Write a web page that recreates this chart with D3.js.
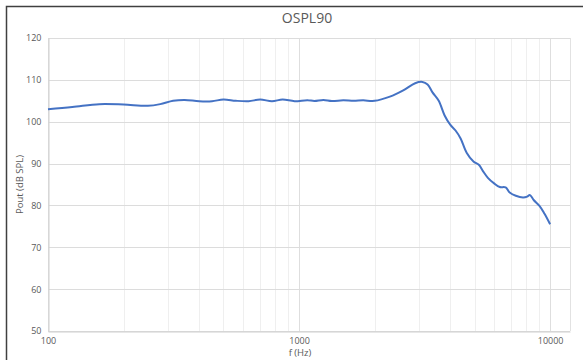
<!DOCTYPE html>
<html>
<head>
<meta charset="utf-8">
<script src="https://cdn.jsdelivr.net/npm/d3@7"></script>
<style>
  html, body { margin: 0; padding: 0; background: #fff; }
  svg { display: block; }
  text { font-family: "Open Sans", "Liberation Sans", sans-serif; fill: #595959; }
</style>
</head>
<body>
<svg id="chart" width="583" height="360"></svg>
<script>
// Output SPL at 90 dB input, measured across frequency
const frequencies = [100, 125, 160, 200, 250, 280, 315, 350, 400, 450, 500, 560, 630, 700, 780, 860, 960,
  1080, 1150, 1250, 1350, 1500, 1650, 1800, 2000, 2300, 2600, 2900, 3100, 3250, 3400, 3600, 3800,
  4000, 4200, 4400, 4650, 4950, 5200, 5400, 5650, 6000, 6300, 6650, 6900, 7300, 7800, 8100, 8300,
  8600, 9100, 9500, 10000];
const ospl90 = [103.0, 103.5, 104.2, 104.1, 103.8, 104.2, 105.0, 105.2, 104.9, 104.9, 105.3, 105.0, 104.9,
  105.3, 104.9, 105.3, 104.9, 105.15, 104.95, 105.2, 104.95, 105.1, 105.0, 105.1, 105.0, 106.0, 107.5,
  109.2, 109.5, 108.9, 107.0, 105.0, 101.5, 99.3, 97.9, 96.0, 92.6, 90.5, 89.7, 88.2, 86.6, 85.2, 84.4,
  84.3, 83.1, 82.3, 81.9, 82.1, 82.5, 81.3, 79.8, 78.0, 75.5];
const yTicks = [50, 60, 70, 80, 90, 100, 110, 120];
const xTickLabels = [100, 1000, 10000];

const chartTitle = "OSPL90";
const xTitle = "f (Hz)";
const yTitle = "Pout (dB SPL)";

const svg = d3.select("#chart");
const plot = { left: 48, right: 570, top: 38, bottom: 331 };

const x = d3.scaleLog().domain([100, 12000]).range([plot.left, plot.right]);
const y = d3.scaleLinear().domain([50, 120]).range([plot.bottom, plot.top]);

// outer chart frame
svg.append("path")
  .attr("d", "M6.5,360 L6.5,6.5 L583,6.5")
  .attr("fill", "none").attr("stroke", "#404040").attr("stroke-width", 1.5);

// vertical gridlines: minor then major decades
const minorVals = [];
for (const dec of [100, 1000]) for (let m = 2; m <= 9; m++) minorVals.push(dec * m);
svg.append("g").selectAll("line").data(minorVals).join("line")
  .attr("x1", d => Math.round(x(d)) + 0.5).attr("x2", d => Math.round(x(d)) + 0.5)
  .attr("y1", plot.top).attr("y2", plot.bottom)
  .attr("stroke", "#efefef").attr("stroke-width", 1);
svg.append("g").selectAll("line").data(xTickLabels).join("line")
  .attr("x1", d => Math.round(x(d)) + 0.5).attr("x2", d => Math.round(x(d)) + 0.5)
  .attr("y1", plot.top).attr("y2", plot.bottom)
  .attr("stroke", "#dedede").attr("stroke-width", 1);

// horizontal gridlines
svg.append("g").selectAll("line").data(yTicks).join("line")
  .attr("x1", plot.left).attr("x2", plot.right)
  .attr("y1", d => Math.round(y(d)) + 0.5).attr("y2", d => Math.round(y(d)) + 0.5)
  .attr("stroke", "#dcdcdc").attr("stroke-width", 1);

// plot-area right edge
svg.append("line")
  .attr("x1", plot.right + 0.5).attr("x2", plot.right + 0.5)
  .attr("y1", plot.top).attr("y2", plot.bottom)
  .attr("stroke", "#e2e2e2");

// axes
const yAxis = d3.axisLeft(y).tickValues(yTicks).tickSize(0).tickPadding(7);
const gy = svg.append("g").attr("transform", `translate(${plot.left + 0.5},0)`).call(yAxis);
gy.select(".domain").attr("stroke", "#d0d0d0");
gy.selectAll("text").style("font-size", "9px").attr("fill", "#595959");

const xAxis = d3.axisBottom(x).tickValues(xTickLabels).tickFormat(d3.format("d")).tickSize(0).tickPadding(6);
const gx = svg.append("g").attr("transform", `translate(0,${plot.bottom + 0.5})`).call(xAxis);
gx.select(".domain").attr("stroke", "#d0d0d0");
gx.selectAll("text").style("font-size", "9px").attr("fill", "#595959");

// response curve
const data = frequencies.map((f, i) => ({ f, v: ospl90[i] }));
svg.append("path")
  .datum(data)
  .attr("fill", "none")
  .attr("stroke", "#4472C4")
  .attr("stroke-width", 2)
  .attr("stroke-linejoin", "round")
  .attr("d", d3.line().x(d => x(d.f)).y(d => y(d.v)).curve(d3.curveCatmullRom.alpha(0.5)));

// titles
svg.append("text").attr("x", 307).attr("y", 23).attr("text-anchor", "middle")
  .style("font-size", "14px").text(chartTitle);
svg.append("text").attr("x", 300).attr("y", 356).attr("text-anchor", "middle")
  .style("font-size", "9.5px").text(xTitle);
svg.append("text").attr("transform", `translate(23,${(plot.top + plot.bottom) / 2}) rotate(-90)`)
  .attr("text-anchor", "middle").style("font-size", "9.5px").text(yTitle);
</script>
</body>
</html>
